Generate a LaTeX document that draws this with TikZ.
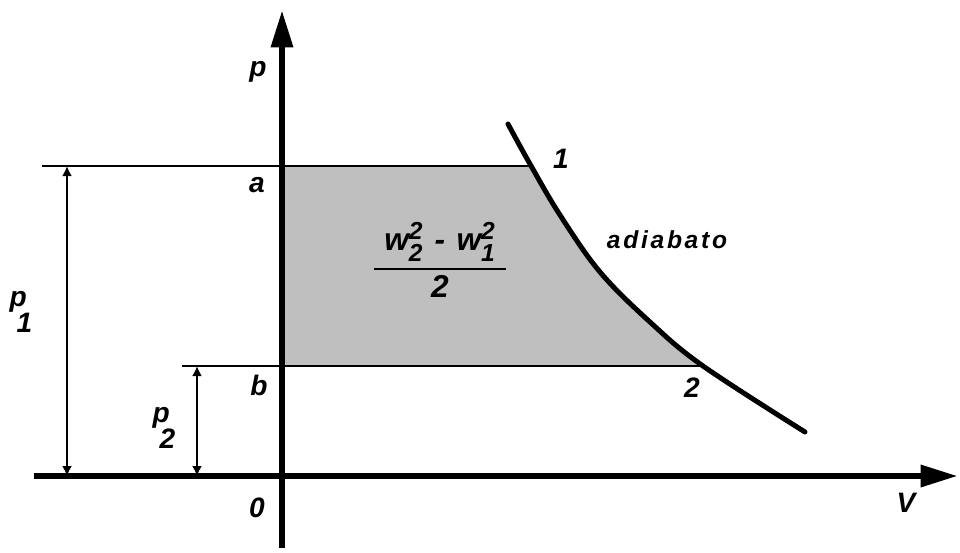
\documentclass[tikz,border=0pt]{standalone}
\usepackage{amsmath}
\usepackage{fontspec}
\setmainfont{Liberation Sans}[LetterSpace=8]
\usetikzlibrary{arrows.meta}

% stacked symbol with index below
\newcommand{\stk}[2]{\shortstack[l]{#1\\[-3pt]\hspace*{0.25em}#2}}
\newcommand{\tx}[1]{\text{#1}}
\newcommand{\sx}[1]{\text{\fontsize{14}{14}\selectfont #1}}

\begin{document}
\begin{tikzpicture}[
  x=0.02cm, y=-0.02cm,
  font=\fontsize{16}{18}\selectfont\bfseries\itshape,
  axis/.style={line width=0.13cm, -{Triangle[length=0.75cm,width=0.42cm]}},
  hline/.style={line width=0.04cm},
  dim/.style={line width=0.04cm, {Latex[length=0.2cm,width=0.2cm]}-{Latex[length=0.2cm,width=0.2cm]}},
  adiab/.style={line width=0.1cm, line cap=round},
  lbl/.style={inner sep=0pt}
]
\useasboundingbox (0,0) rectangle (960,552);

% shaded work area
\begin{scope}
  \clip (282,166) rectangle (960,366);
  \fill[black!25] (282,124) -- plot[smooth, tension=0.6] coordinates
    {(508,124) (530,164) (560,215) (600,272) (650,322) (703,366) (805,432)} -- (282,432) -- cycle;
\end{scope}

\coordinate (xs) at (34,476);  \coordinate (xe) at (958,476);
\coordinate (ys) at (282,548); \coordinate (ye) at (282,10);
\coordinate (la) at (42,166);  \coordinate (pt1) at (531,166);
\coordinate (lb) at (182,366); \coordinate (pt2) at (703,366);
\coordinate (d1t) at (67,166);  \coordinate (d1b) at (67,476);
\coordinate (d2t) at (197,366); \coordinate (d2b) at (197,476);

\draw[hline] (la) -- (pt1);
\draw[hline] (lb) -- (pt2);
\draw[dim] (d1t) -- (d1b);
\draw[dim] (d2t) -- (d2b);

\draw[adiab] plot[smooth, tension=0.6] coordinates
  {(508,124) (530,164) (560,215) (600,272) (650,322) (703,366) (805,432)};

\draw[axis] (xs) -- (xe);
\draw[axis] (ys) -- (ye);

\node[lbl] (lp)  at (258,72)  {p};
\node[lbl] (lV)  at (906,503) {V};
\node[lbl] (l0)  at (257,508) {0};
\node[lbl] (lA)  at (257,185) {a};
\node[lbl] (lB)  at (259,385) {b};
\node[lbl] (l1)  at (561,159) {1};
\node[lbl] (l2)  at (692,388) {2};
\node[lbl, font=\fontsize{14}{16}\selectfont\bfseries\itshape\addfontfeature{LetterSpace=11}]
  (lad) at (667,240) {adiabato};
\node[lbl] (lp1) at (21,312) {\stk{p}{1}};
\node[lbl] (lp2) at (164,428) {\stk{p}{2}};
\node[lbl, font=\fontsize{18}{20}\selectfont\bfseries\itshape] (frac) at (440,260)
  {$\genfrac{}{}{1.1pt}{0}{\hspace{6pt}\tx{w}^{\sx{2}}_{\sx{2}}\tx{ - }\tx{w}^{\sx{2}}_{\sx{1}}\hspace{6pt}}{\tx{2}}$};
\end{tikzpicture}
\end{document}
